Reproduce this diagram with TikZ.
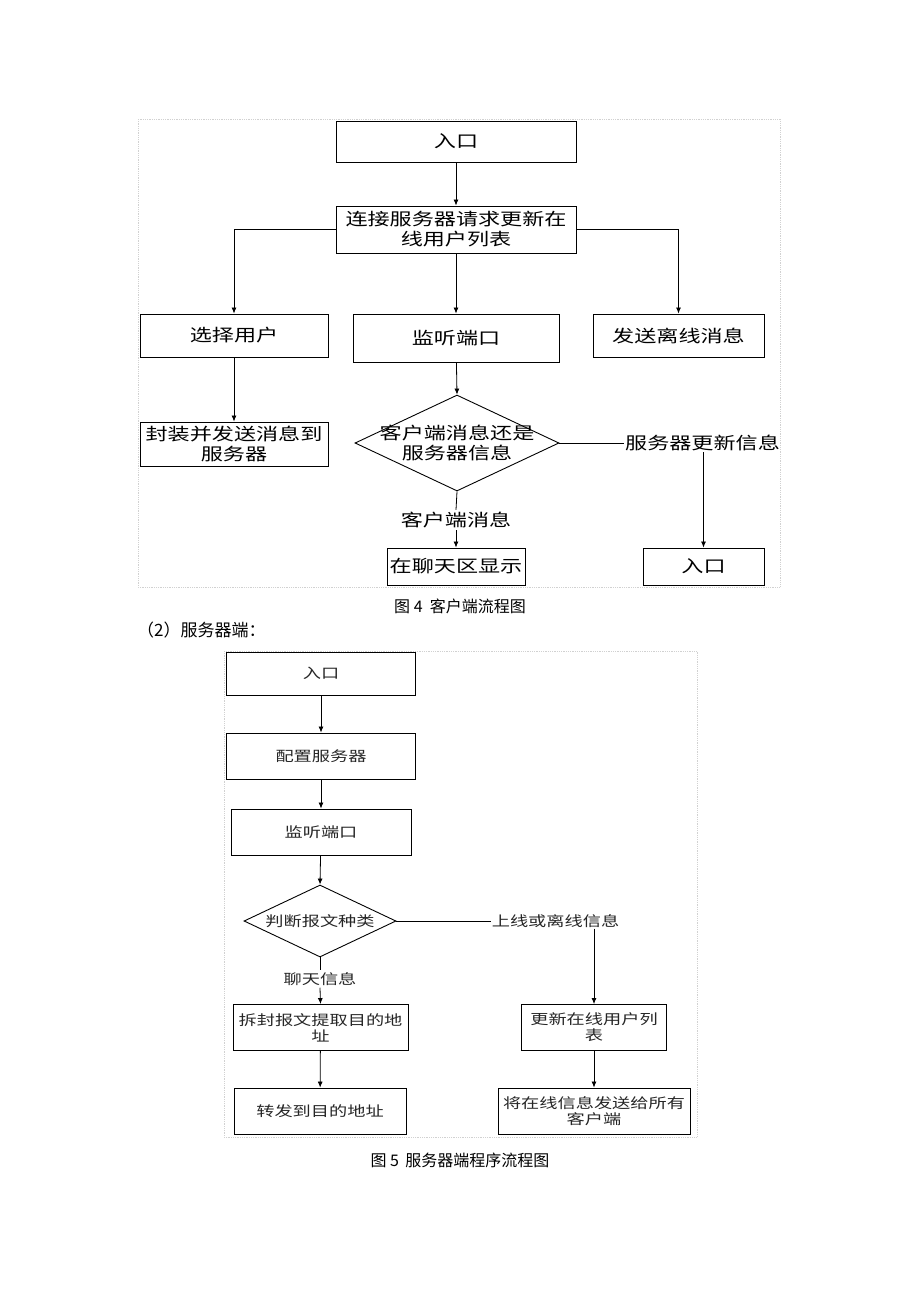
\documentclass[tikz,border=0pt]{standalone}
\usepackage{fontspec}
\newfontfamily\cjkw[FakeStretch=1.3]{Noto Sans CJK SC}
\newfontfamily\cjk{Noto Sans CJK SC}
\usetikzlibrary{arrows.meta,shapes.geometric}
\begin{document}
\begin{tikzpicture}[x=1pt,y=-1pt,
 box/.style={draw, line width=0.9pt, inner sep=0pt, align=center},
 fa/.style={font=\cjkw\fontsize{17}{20}\selectfont},
 fb/.style={font=\cjkw\fontsize{14}{16}\selectfont, text=black!85},
 arr/.style={-{Latex[length=6pt,width=5pt]}, line width=0.8pt},
 ln/.style={line width=0.8pt},
 framebox/.style={draw=black!18, densely dotted, line width=0.8pt}]
\fill[white] (0,0) rectangle (920,1302);
\useasboundingbox (0,0) rectangle (920,1302);
% frames
\draw[framebox] (138,119) rectangle (780,587);
\draw[framebox] (224,651) rectangle (697,1137);

% ---------- Figure 4 ----------
\node[box, fa, minimum width=240pt, minimum height=41pt] (in1) at (456,141.5) {入口};
\node[box, fa, minimum width=240pt, minimum height=47pt] (conn) at (456,229.5) {连接服务器请求更新在\\线用户列表};
\node[box, fa, minimum width=188pt, minimum height=43pt] (sel) at (234,335.5) {选择用户};
\node[box, fa, minimum width=206pt, minimum height=48pt] (lis) at (456,338) {监听端口};
\node[box, fa, minimum width=171pt, minimum height=43pt] (off) at (678.5,335.5) {发送离线消息};
\node[box, fa, minimum width=188pt, minimum height=44pt] (pack) at (234,444) {封装并发送消息到\\服务器};
\node[draw, diamond, line width=0.9pt, inner sep=0pt, minimum width=204pt, minimum height=96pt] (dia) at (457,443) {};
\node[fa, align=center, inner sep=0pt] (diat) at (457,443) {客户端消息还是\\服务器信息};
\node[fa, inner sep=1pt] (srvupd) at (702.5,443) {服务器更新信息};
\node[fa, inner sep=2pt] (cmsg) at (456,520) {客户端消息};
\node[box, fa, minimum width=138pt, minimum height=37pt] (chat) at (456,566.5) {在聊天区显示};
\node[box, fa, minimum width=121pt, minimum height=37pt] (in2) at (703.5,566.5) {入口};
\node[font=\cjk\fontsize{16}{19}\selectfont] (cap1) at (460,606) {图 4\ \ 客户端流程图};

\draw[arr] (in1) -- (conn);
\draw[arr] (conn) -- (lis);
\draw[arr] (conn.west) -| (sel.north);
\draw[arr] (conn.east) -| (off.north);
\draw[arr] (sel) -- (pack);
\draw[arr] (lis) -- (dia.north);
\draw[ln] (dia.east) -- (srvupd.west);
\draw[arr] (srvupd.south -| in2.north) -- (in2.north);
\draw[ln] (dia.south) -- (cmsg.north);
\draw[arr] (cmsg.south) -- (chat.north);

% ---------- heading ----------
\node[font=\cjk\fontsize{17}{20}\selectfont, anchor=west, inner sep=0pt] (head) at (137,630) {（2）服务器端：};

% ---------- Figure 5 ----------
\node[box, fb, minimum width=189pt, minimum height=43pt] (in3) at (321,673.5) {入口};
\node[box, fb, minimum width=189pt, minimum height=46pt] (cfg) at (321,756) {配置服务器};
\node[box, fb, minimum width=180pt, minimum height=46pt] (lis2) at (321,832) {监听端口};
\node[draw, diamond, line width=0.9pt, inner sep=0pt, minimum width=152pt, minimum height=72pt] (dia2) at (320,921) {};
\node[fb, inner sep=0pt] (dia2t) at (320,921) {判断报文种类};
\node[fb, inner sep=1pt] (onl) at (555.5,921) {上线或离线信息};
\node[fb, inner sep=2pt] (chatmsg) at (320,979) {聊天信息};
\node[box, fb, minimum width=175pt, minimum height=46pt] (unp) at (320.5,1027.5) {拆封报文提取目的地\\址};
\node[box, fb, minimum width=145pt, minimum height=46pt] (upd) at (594,1027.5) {更新在线用户列\\表};
\node[box, fb, minimum width=172pt, minimum height=46pt] (fwd) at (320,1111) {转发到目的地址};
\node[box, fb, minimum width=192pt, minimum height=46pt] (bc) at (594,1111) {将在线信息发送给所有\\客户端};
\node[font=\cjk\fontsize{16}{19}\selectfont] (cap2) at (460,1160) {图 5\, 服务器端程序流程图};

\draw[arr] (in3) -- (cfg);
\draw[arr] (cfg) -- (lis2);
\draw[arr] (lis2) -- (dia2.north);
\draw[ln] (dia2.east) -- (onl.west);
\draw[arr] (onl.south -| upd.north) -- (upd.north);
\draw[ln] (dia2.south) -- (chatmsg.north);
\draw[arr] (chatmsg.south) -- (unp.north);
\draw[arr] (unp) -- (fwd);
\draw[arr] (upd) -- (bc);
\end{tikzpicture}
\end{document}
